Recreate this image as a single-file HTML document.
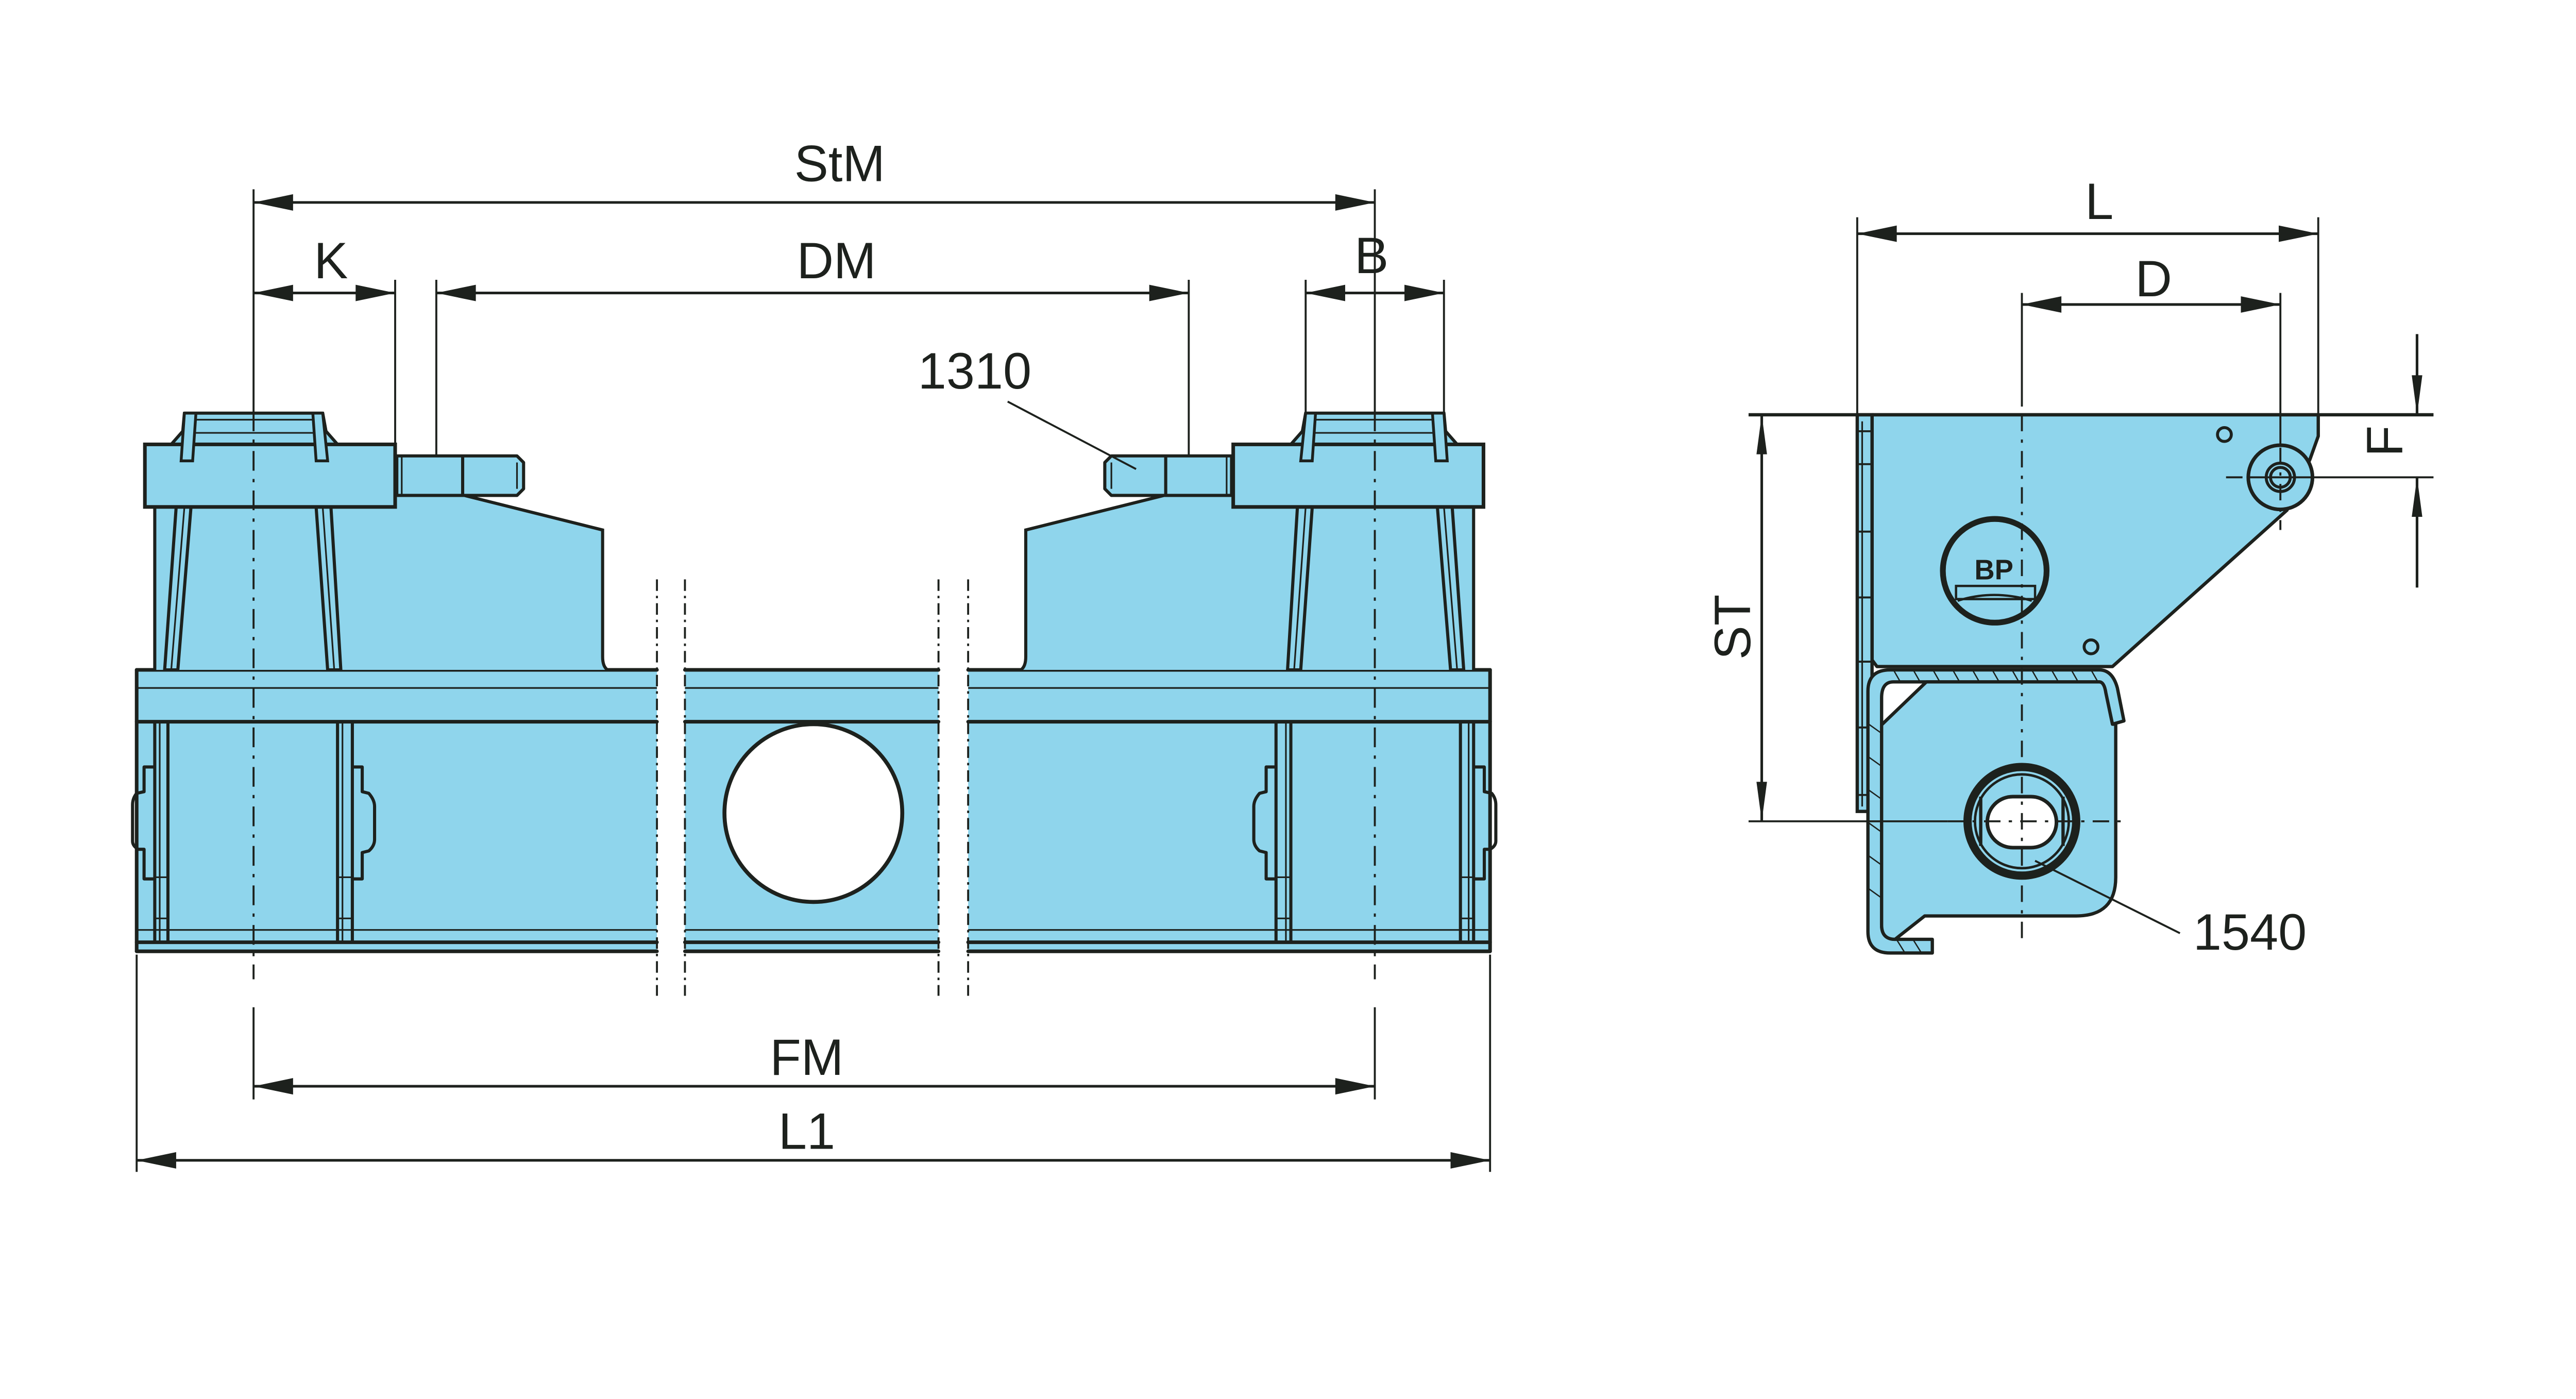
<!DOCTYPE html>
<html><head><meta charset="utf-8">
<style>
html,body{margin:0;padding:0;background:#fff;}
svg{display:block;}
text{font-family:"Liberation Sans",Arial,sans-serif;fill:#1d211d;}
</style></head>
<body>
<svg width="5500" height="2715" viewBox="0 0 1721 850" preserveAspectRatio="none" xmlns="http://www.w3.org/2000/svg">
<defs>
<marker id="a" markerUnits="userSpaceOnUse" markerWidth="30" markerHeight="14" viewBox="-1 -7 26 14" refX="24" refY="0" orient="auto-start-reverse">
<path d="M0,-5 L24,0 L0,5 z" fill="#1d211d"/></marker>
<marker id="v" markerUnits="userSpaceOnUse" markerWidth="30" markerHeight="10" viewBox="-1 -5 26 10" refX="24" refY="0" orient="auto-start-reverse">
<path d="M0,-3.2 L24,0 L0,3.2 z" fill="#1d211d"/></marker>
<g id="ped">
  <path d="M94,407 L94,300 L282,301 L366,322 L366,399 Q366,405 369,407 Z" fill="#8fd5ec" stroke="none"/>
  <path d="M282,301 L366,322 L366,399 Q366,405 369,407" fill="none" stroke="#1d211d" stroke-width="1.9"/>
  <line x1="94" y1="308" x2="94" y2="407" stroke="#1d211d" stroke-width="1.9"/>
  <path d="M107,308 L116,308 L108,407 L100,407 Z" fill="#8fd5ec" stroke="#1d211d" stroke-width="1.9"/>
  <line x1="112" y1="308" x2="104" y2="407" stroke="#1d211d" stroke-width="1"/>
  <path d="M192,308 L201,308 L207,407 L199,407 Z" fill="#8fd5ec" stroke="#1d211d" stroke-width="1.9"/>
  <line x1="196" y1="308" x2="203" y2="407" stroke="#1d211d" stroke-width="1"/>
  <path d="M104,270 L111,262 L112,251 L196,251 L198,262 L205,270 Z" fill="#8fd5ec" stroke="#1d211d" stroke-width="1.9" stroke-linejoin="round"/>
  <line x1="118" y1="255" x2="190" y2="255" stroke="#1d211d" stroke-width="1"/>
  <line x1="117" y1="263" x2="191" y2="263" stroke="#1d211d" stroke-width="1"/>
  <rect x="88" y="270" width="152" height="38" fill="#8fd5ec" stroke="#1d211d" stroke-width="2.2"/>
  <path d="M112,251 L119,251 L117,280 L110,280 Z" fill="#8fd5ec" stroke="#1d211d" stroke-width="1.7"/>
  <path d="M190,251 L196,251 L199,280 L192,280 Z" fill="#8fd5ec" stroke="#1d211d" stroke-width="1.7"/>
  <path d="M241,277 L314,277 L318,281 L318,297 L314,301 L241,301 Z" fill="#8fd5ec" stroke="#1d211d" stroke-width="1.9" stroke-linejoin="round"/>
  <line x1="281" y1="277" x2="281" y2="301" stroke="#1d211d" stroke-width="1.9"/>
  <line x1="244" y1="277" x2="244" y2="301" stroke="#1d211d" stroke-width="1"/>
  <line x1="314" y1="281" x2="314" y2="297" stroke="#1d211d" stroke-width="1"/>
  <g stroke="#1d211d" fill="none">
   <line x1="94" y1="439" x2="94" y2="573" stroke-width="1.9"/>
   <line x1="97" y1="439" x2="97" y2="573" stroke-width="1"/>
   <line x1="102" y1="439" x2="102" y2="573" stroke-width="1.9"/>
   <line x1="94" y1="558" x2="102" y2="558" stroke-width="1"/>
   <line x1="94" y1="533" x2="102" y2="533" stroke-width="1"/>
   <path d="M94,466 L87.5,466 L87.5,481 L83,482 Q80.5,485 80.5,489 L80.5,511 Q80.5,514 84,516 L87.5,516 L87.5,534 L94,534" stroke-width="1.9" stroke-linejoin="round"/>
   <line x1="205" y1="439" x2="205" y2="573" stroke-width="1.9"/>
   <line x1="208" y1="439" x2="208" y2="573" stroke-width="1"/>
   <line x1="214" y1="439" x2="214" y2="573" stroke-width="1.9"/>
   <line x1="205" y1="558" x2="214" y2="558" stroke-width="1"/>
   <line x1="205" y1="533" x2="214" y2="533" stroke-width="1"/>
   <path d="M214,466 L220,466 L220,481 L224,482 Q227.5,486 227.5,490 L227.5,510 Q227.5,514 224,517 L220,518 L220,534 L214,534" stroke-width="1.9" stroke-linejoin="round"/>
  </g>
</g>
</defs>

<g stroke="#1d211d">
  <rect x="83" y="407" width="316" height="171" fill="#8fd5ec" stroke="none"/>
  <rect x="416" y="407" width="154" height="171" fill="#8fd5ec" stroke="none"/>
  <rect x="588" y="407" width="317" height="171" fill="#8fd5ec" stroke="none"/>
  <g stroke-width="2.2" stroke-linecap="round">
    <path d="M83,407H399 M416,407H570 M588,407H905 M83,438.5H399 M416,438.5H570 M588,438.5H905 M83,572.5H399 M416,572.5H570 M588,572.5H905 M83,578H399 M416,578H570 M588,578H905"/>
    <path d="M83,407V578 M905,407V578"/>
  </g>
  <g stroke-width="1">
    <path d="M83,418H399 M416,418H570 M588,418H905 M83,565H399 M416,565H570 M588,565H905"/>
  </g>
  <circle cx="494" cy="494" r="54" fill="#fff" stroke-width="2.4"/>
</g>

<use href="#ped"/>
<use href="#ped" transform="translate(989,0) scale(-1,1)"/>

<g stroke="#1d211d" stroke-width="1.2" stroke-dasharray="7,3,1.5,3">
  <line x1="399" y1="352" x2="399" y2="605"/>
  <line x1="416" y1="352" x2="416" y2="605"/>
  <line x1="570" y1="352" x2="570" y2="605"/>
  <line x1="588" y1="352" x2="588" y2="605"/>
</g>

<g stroke="#1d211d" stroke-width="1.2" stroke-dasharray="12,5,2,5">
  <line x1="154" y1="250" x2="154" y2="595"/>
  <line x1="835" y1="250" x2="835" y2="595"/>
</g>
<g stroke="#1d211d" stroke-width="1.2">
  <line x1="154" y1="115" x2="154" y2="250"/>
  <line x1="835" y1="115" x2="835" y2="250"/>
  <line x1="154" y1="612" x2="154" y2="668"/>
  <line x1="835" y1="612" x2="835" y2="668"/>
  <line x1="240" y1="170" x2="240" y2="270"/>
  <line x1="265" y1="170" x2="265" y2="277"/>
  <line x1="722" y1="170" x2="722" y2="277"/>
  <line x1="793" y1="170" x2="793" y2="252"/>
  <line x1="877" y1="170" x2="877" y2="252"/>
  <line x1="83" y1="580" x2="83" y2="712"/>
  <line x1="905" y1="580" x2="905" y2="712"/>
  <line x1="612" y1="244" x2="690" y2="285"/>
</g>
<g stroke="#1d211d" stroke-width="1.6" marker-start="url(#a)" marker-end="url(#a)">
  <line x1="154" y1="123" x2="835" y2="123"/>
  <line x1="154" y1="178" x2="240" y2="178"/>
  <line x1="265" y1="178" x2="722" y2="178"/>
  <line x1="793" y1="178" x2="877" y2="178"/>
  <line x1="154" y1="660" x2="835" y2="660"/>
  <line x1="83" y1="705" x2="905" y2="705"/>
</g>
<g font-size="31" text-anchor="middle">
  <text x="510" y="110">StM</text>
  <text x="201" y="169">K</text>
  <text x="508" y="169">DM</text>
  <text x="833" y="166">B</text>
  <text x="592" y="236">1310</text>
  <text x="490" y="653">FM</text>
  <text x="490" y="698">L1</text>
</g>

<path d="M1137,252 L1408,252 L1408,265 L1403,279 L1389,310 L1283,405 L1140,405 L1137,401 Z" fill="#8fd5ec" stroke="#1d211d" stroke-width="2" stroke-linejoin="round"/>
<rect x="1128" y="252" width="9" height="241" fill="#8fd5ec" stroke="#1d211d" stroke-width="2"/>
<line x1="1131" y1="256" x2="1131" y2="490" stroke="#1d211d" stroke-width="1"/>
<g stroke="#1d211d" stroke-width="1.2">
  <path d="M1128,262H1137 M1128,282H1137 M1128,323H1137 M1128,363H1137 M1128,402H1137 M1128,442H1137 M1128,483H1137"/>
</g>
<path d="M1290,438 L1286,418 Q1283,407 1275,407 L1148,407 Q1134.5,407 1134.5,420 L1134.5,566 Q1134.5,579 1148,579 L1173.6,579 L1173.6,570.7 L1151,570.7 Q1142.8,570.7 1142.8,562 L1142.8,424 Q1142.8,414.3 1150,414.3 L1275,414.3 Q1278,414.3 1279,421 L1283,440 Z" fill="#8fd5ec" stroke="#1d211d" stroke-width="2" stroke-linejoin="round"/>
<g stroke="#1d211d" stroke-width="0.8">
  <path d="M1150,407l4,7 M1162,407l4,7 M1174,407l4,7 M1186,407l4,7 M1198,407l4,7 M1210,407l4,7 M1222,407l4,7 M1234,407l4,7 M1246,407l4,7 M1258,407l4,7 M1270,407l4,7"/>
  <path d="M1135,440l7,5 M1135,460l7,5 M1135,480l7,5 M1135,500l7,5 M1135,520l7,5 M1135,540l7,5 M1152,571l5,8 M1162,571l5,8"/>
</g>
<path d="M1170,414.3 L1275,414.3 Q1278,414.3 1279,421 L1283,440 L1285,440 L1285,533 Q1285,556.5 1261,556.5 L1169,556.5 L1151,570.7 Q1142.8,570.7 1142.8,562 L1142.8,440.4 Z" fill="#8fd5ec" stroke="#1d211d" stroke-width="2" stroke-linejoin="round"/>
<circle cx="1211.5" cy="346.8" r="31.5" fill="#8fd5ec" stroke="#1d211d" stroke-width="3.5"/>
<text x="1211" y="352" font-size="17" font-weight="bold" text-anchor="middle">BP</text>
<path d="M1188,356 L1236,356 L1236,364 L1188,364 Z M1189,365 Q1211,358 1234,365" fill="none" stroke="#1d211d" stroke-width="1.4"/>
<circle cx="1351" cy="264" r="4.2" fill="#8fd5ec" stroke="#1d211d" stroke-width="1.8"/>
<circle cx="1270" cy="393" r="4.2" fill="#8fd5ec" stroke="#1d211d" stroke-width="1.8"/>
<circle cx="1385" cy="290" r="19.5" fill="#8fd5ec" stroke="#1d211d" stroke-width="2.2"/>
<circle cx="1385" cy="290" r="8.6" fill="none" stroke="#1d211d" stroke-width="1.8"/>
<circle cx="1385" cy="290" r="6" fill="none" stroke="#1d211d" stroke-width="1.8"/>
<circle cx="1228" cy="499" r="33" fill="#8fd5ec" stroke="#1d211d" stroke-width="5"/>
<circle cx="1228" cy="499" r="28.5" fill="none" stroke="#1d211d" stroke-width="1.5"/>
<line x1="1203" y1="484" x2="1203" y2="514" stroke="#1d211d" stroke-width="2"/>
<line x1="1253" y1="484" x2="1253" y2="514" stroke="#1d211d" stroke-width="2"/>
<rect x="1207" y="484" width="42" height="31" rx="15.5" fill="#fff" stroke="#1d211d" stroke-width="2.2"/>
<g stroke="#1d211d" stroke-width="1.2" stroke-dasharray="10,5,2,5">
  <line x1="1228" y1="252" x2="1228" y2="572"/>
  <line x1="1183" y1="499" x2="1292" y2="499"/>
  <line x1="1385" y1="272" x2="1385" y2="322"/>
  <line x1="1352" y1="290" x2="1365" y2="290"/>
</g>
<g stroke="#1d211d" stroke-width="1.2">
  <line x1="1062" y1="499" x2="1183" y2="499"/>
  <line x1="1365" y1="290" x2="1478" y2="290"/>
  <line x1="1128" y1="132" x2="1128" y2="252"/>
  <line x1="1408" y1="132" x2="1408" y2="252"/>
  <line x1="1228" y1="178" x2="1228" y2="247"/>
  <line x1="1385" y1="178" x2="1385" y2="270"/>
  <line x1="1324" y1="567" x2="1236" y2="523"/>
</g>
<line x1="1062" y1="252" x2="1478" y2="252" stroke="#1d211d" stroke-width="2"/>
<g stroke="#1d211d" stroke-width="1.6">
  <line x1="1128" y1="142" x2="1408" y2="142" marker-start="url(#a)" marker-end="url(#a)"/>
  <line x1="1228" y1="185" x2="1385" y2="185" marker-start="url(#a)" marker-end="url(#a)"/>
  <line x1="1070" y1="252" x2="1070" y2="499" marker-start="url(#v)" marker-end="url(#v)"/>
  <line x1="1468" y1="203" x2="1468" y2="252" marker-end="url(#v)"/>
  <line x1="1468" y1="357" x2="1468" y2="290" marker-end="url(#v)"/>
</g>
<g font-size="31">
  <text x="1275" y="133" text-anchor="middle">L</text>
  <text x="1308" y="180" text-anchor="middle">D</text>
  <text x="1332" y="577">1540</text>
  <text transform="translate(1459,268) rotate(-90)" text-anchor="middle">F</text>
  <text transform="translate(1063,381) rotate(-90)" text-anchor="middle">ST</text>
</g>
</svg>
</body></html>
